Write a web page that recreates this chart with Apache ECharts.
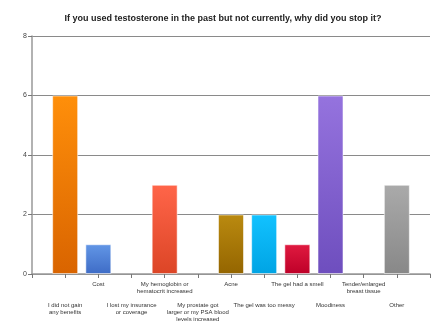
<!DOCTYPE html>
<html><head><meta charset="utf-8">
<script src="https://cdn.jsdelivr.net/npm/echarts@6/dist/echarts.min.js"></script>
<style>html,body{margin:0;padding:0;background:#fff}#c{width:446px;height:334px}</style>
</head><body><div id="c"></div>
<script>
const title = "If you used testosterone in the past but not currently, why did you stop it?";
const categories = [
  "I did not gain\nany benefits",
  "Cost",
  "I lost my insurance\nor coverage",
  "My hemoglobin or\nhematocrit increased",
  "My prostate got\nlarger or my PSA blood\nlevels increased",
  "Acne",
  "The gel was too messy",
  "The gel had a smell",
  "Moodiness",
  "Tender/enlarged\nbreast tissue",
  "Other"
];
const values = [6, 1, 0, 3, 0, 2, 2, 1, 6, 0, 3];
const barColors = [
  ["#FF8F0A", "#D96400"],
  ["#6296E6", "#3E6CC6"],
  ["#cccccc", "#aaaaaa"],
  ["#FF6549", "#DC4526"],
  ["#cccccc", "#aaaaaa"],
  ["#BA8A10", "#946500"],
  ["#12C2FF", "#00A4E4"],
  ["#E01A40", "#BE0028"],
  ["#9573DE", "#6E4EBE"],
  ["#cccccc", "#aaaaaa"],
  ["#AAAAAA", "#888888"]
];
const yTicks = [0, 2, 4, 6, 8];

const slots = categories.length + 1;
const chart = echarts.init(document.getElementById('c'), null, {renderer: 'canvas'});
const L = 32, R = 430, T = 36, B = 274;
const slotW = (R - L) / slots;
const font = "'Liberation Sans', Arial, sans-serif";

chart.setOption({
  animation: false,
  title: {
    text: title, left: 'center', top: 9,
    textStyle: {fontFamily: font, fontSize: 9, fontWeight: 'bold', color: '#222'}
  },
  grid: [
    {left: L, right: 446 - R, top: T, bottom: 334 - B},
    {left: L + slotW / 2, right: 446 - R + slotW / 2, top: T, bottom: 334 - B}
  ],
  xAxis: [
    {
      gridIndex: 0, type: 'category', data: new Array(slots).fill(''),
      boundaryGap: true,
      axisLine: {show: true, lineStyle: {color: '#999', width: 1.5}},
      axisTick: {show: true, length: 4, lineStyle: {color: '#777'}},
      axisLabel: {show: false}, splitLine: {show: false}
    },
    {
      gridIndex: 1, type: 'category', data: categories, boundaryGap: true,
      axisLine: {show: false}, axisTick: {show: false}, splitLine: {show: false},
      axisLabel: {
        interval: 0, margin: 7,
        fontFamily: font, fontSize: 6, color: '#333', lineHeight: 7,
        formatter: function (v, i) { return i % 2 === 0 ? '\n\n\n' + v : v; }
      }
    }
  ],
  yAxis: [
    {
      gridIndex: 0, type: 'value', min: yTicks[0], max: yTicks[yTicks.length - 1], interval: 2,
      axisLine: {show: true, lineStyle: {color: '#999', width: 1.5}},
      axisTick: {show: true, length: 4, lineStyle: {color: '#777'}},
      axisLabel: {fontFamily: font, fontSize: 7, color: '#444', margin: 5},
      splitLine: {show: true, lineStyle: {color: '#8a8a8a', width: 1}}
    },
    {
      gridIndex: 1, type: 'value', min: yTicks[0], max: yTicks[yTicks.length - 1], interval: 2,
      axisLine: {show: false}, axisTick: {show: false}, axisLabel: {show: false},
      splitLine: {show: false}
    }
  ],
  series: [{
    type: 'bar', xAxisIndex: 1, yAxisIndex: 1, barWidth: 26,
    data: values.map((v, i) => ({
      value: v,
      itemStyle: {
        color: new echarts.graphic.LinearGradient(0, 0, 0, 1, [
          {offset: 0, color: barColors[i][0]}, {offset: 1, color: barColors[i][1]}
        ]),
        borderColor: 'rgba(255,255,255,0.55)', borderWidth: v === 0 ? 0 : 1,
        opacity: v === 0 ? 0 : 1
      }
    }))
  }]
});
</script></body></html>
